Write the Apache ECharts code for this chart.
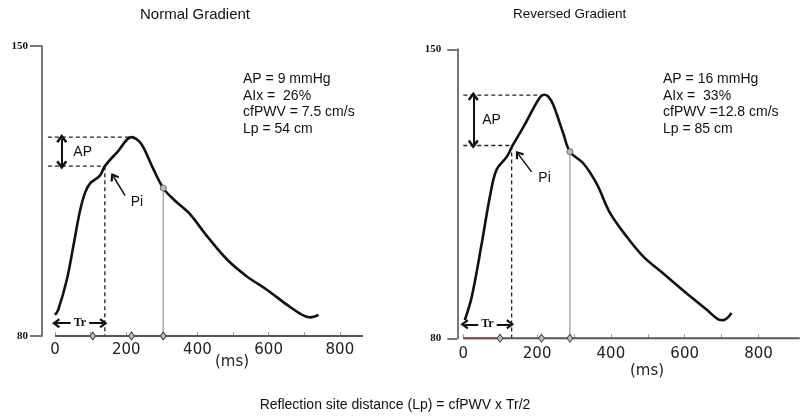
<!DOCTYPE html>
<html><head><meta charset="utf-8">
<script src="https://cdn.jsdelivr.net/npm/echarts@6/dist/echarts.min.js"></script>
<style>html,body{margin:0;padding:0;background:#fff}#c{width:800px;height:419px}</style>
</head><body><div id="c"></div>
<script>
// ---- data (ms, mmHg) ----
const xLabelTicks = [0, 200, 400, 600, 800];
const xMinorTicks = [0, 100, 200, 300, 400, 500, 600, 700, 800];
const yTicks = [80, 150];

const normalCurve = [[0,85.1],[9,86.3],[33,93.5],[53,102.4],[70,110.1],[84,114.5],[98,116.8],[126,118.7],[140,121],[175,124.4],[215,128],[241,126.5],[273,120.9],[304,115.7],[334,112.9],[376,109.7],[428,104],[484,98.4],[540,94.3],[596,91.1],[652,87.5],[694,85.1],[717,84.5],[740,85.1]];
const reversedCurve = [[4,84.4],[23,90.1],[50,103],[72,114.3],[90,120.8],[118,124],[133,126.6],[163,131.2],[190,135.7],[208,138.4],[219,139],[230,138.6],[244,136.5],[271,129.6],[289,125.2],[325,122.4],[361,117.5],[398,110.3],[443,104.6],[488,99.8],[542,95.7],[605,90.9],[660,86.9],[691,84.6],[705,84.4],[727,86.1]];

// key points: [ms, mmHg]
const normalPeak = [215, 128], normalPi = [140, 121], normalInflect = [304, 115.7];
const reversedPeak = [226, 138.9], reversedPi = [131, 126.7], reversedInflect = [289, 125.2];
const normalDiamonds = [106, 215, 304];
const reversedDiamonds = [99.5, 212, 289];
const normalStats = ['AP = 9 mmHg', 'AIx =  26%', 'cfPWV = 7.5 cm/s', 'Lp = 54 cm'];
const reversedStats = ['AP = 16 mmHg', 'AIx =  33%', 'cfPWV =12.8 cm/s', 'Lp = 85 cm'];
const titles = ['Normal Gradient', 'Reversed Gradient'];
const caption = 'Reflection site distance (Lp) = cfPWV x Tr/2';

// ---- chart ----
const chev = 'path://M0,7 L5,0 L10,7 L8.2,8.4 L5,3.8 L1.8,8.4 Z';
const sans = 'Liberation Sans, Arial, sans-serif';

function axesFor(i, cfg) {
  const x = {
    type: 'value', gridIndex: i, min: cfg.xmin, max: cfg.xmax,
    axisLine: {show: false, onZero: false},
    axisTick: {show: true, inside: true, length: 4, customValues: xMinorTicks, lineStyle: {color: '#999', width: 1}},
    axisLabel: {customValues: xLabelTicks, margin: cfg.xMargin, fontFamily: 'DejaVu Sans', fontSize: 15, color: '#222'},
    splitLine: {show: false}
  };
  const y = {
    type: 'value', gridIndex: i, min: 80, max: 150,
    axisLine: {show: true, onZero: false, lineStyle: {color: '#777', width: 2}},
    axisTick: {show: true, length: cfg.tickLen, customValues: yTicks, lineStyle: {color: '#777', width: 2}},
    axisLabel: {customValues: yTicks, margin: cfg.yMargin, fontFamily: 'Liberation Serif', fontWeight: 'bold', fontSize: 11, color: '#111'},
    splitLine: {show: false}
  };
  return [x, y];
}

function seriesFor(i, curve, peak, pi, inflect, diamonds, o) {
  const base = {xAxisIndex: i, yAxisIndex: i};
  const dash = {color: '#222', width: 1.3, type: [4, 3]};
  const lbl = (t, extra) => Object.assign({show: true, formatter: t, position: 'right', distance: 0, fontFamily: sans, fontSize: 14, color: '#111'}, extra || {});
  return [
    // x axis line from 0
    Object.assign({type: 'line', data: [[0, 80], [o.xEnd, 80]], symbol: 'none', clip: false, lineStyle: {color: '#555', width: 2}, z: 4}, base),
    Object.assign({type: 'line', data: curve, smooth: 0.35, symbol: 'none', lineStyle: {color: '#111', width: 2.6}, z: 5}, base),
    // dashed AP guide lines + vertical Tr guide
    Object.assign({type: 'line', data: [[o.dashStart, peak[1]], [peak[0], peak[1]]], symbol: 'none', clip: false, lineStyle: dash, z: 3}, base),
    Object.assign({type: 'line', data: [[o.dashStart, pi[1]], [pi[0], pi[1]]], symbol: 'none', clip: false, lineStyle: dash, z: 3}, base),
    Object.assign({type: 'line', data: [[pi[0], pi[1]], [pi[0], 80]], symbol: 'none', clip: false, lineStyle: dash, z: 3}, base),
    // gray vertical at inflection
    Object.assign({type: 'line', data: [[inflect[0], inflect[1]], [inflect[0], 80]], symbol: 'none', clip: false, lineStyle: {color: '#aaa', width: 1.5}, z: 2}, base),
    Object.assign({type: 'scatter', data: [inflect], symbol: 'circle', symbolSize: 6, clip: false, itemStyle: {color: '#bbb', borderColor: '#666', borderWidth: 1, opacity: 1}, z: 6}, base),
    // diamonds on x axis
    Object.assign({type: 'scatter', data: diamonds.map(d => [d, 80]), symbol: 'diamond', symbolSize: [6, 8], clip: false, itemStyle: {color: '#bbb', borderColor: '#444', borderWidth: 1, opacity: 1}, z: 7}, base),
    // arrows
    Object.assign({type: 'line', data: [], clip: false, markLine: {
      silent: true, symbol: 'none', label: {show: false}, animation: false,
      lineStyle: {color: '#111', width: 2, type: 'solid'},
      data: [
        [{coord: [o.apX, pi[1] + 0.3], symbol: chev, symbolSize: [11, 9]}, {coord: [o.apX, peak[1] - 0.3], symbol: chev, symbolSize: [11, 9]}],
        [{coord: [o.piTail[0], o.piTail[1]], symbol: 'none', lineStyle: {width: 1.5}}, {coord: [o.piHead[0], o.piHead[1]], symbol: chev, symbolSize: [10, 8], lineStyle: {width: 1.5}}],
        [{coord: [3, o.trY], symbol: chev, symbolSize: [10, 8]}, {coord: [pi[0] - 4, o.trY], symbol: chev, symbolSize: [10, 8]}]
      ]
    }}, base),
    // text labels
    Object.assign({type: 'scatter', symbol: 'circle', symbolSize: 1, clip: false, z: 8, itemStyle: {color: 'rgba(0,0,0,0)', opacity: 1}, data: [
      {value: [o.apLabelX, (peak[1] + pi[1]) / 2], label: lbl('AP')},
      {value: o.piText, label: lbl('Pi')},
      {value: [pi[0] / 2, o.trY], label: lbl('Tr', {position: 'inside', fontFamily: 'Liberation Serif', fontWeight: 'bold', fontSize: 12, backgroundColor: '#fff', padding: [0, 3]})}
    ]}, base)
  ];
}

const cfgL = {xmin: -36.5, xmax: 865, xMargin: 7, tickLen: 12, yMargin: 14};
const cfgR = {xmin: -16.3, xmax: 912, xMargin: 8, tickLen: 10, yMargin: 16};
const [xL, yL] = axesFor(0, cfgL);
const [xR, yR] = axesFor(1, cfgR);

const option = {
  backgroundColor: '#fff',
  animation: false,
  grid: [
    {left: 42, top: 46, width: 321, height: 290},
    {left: 457.3, top: 49.3, width: 342.5, height: 289}
  ],
  xAxis: [xL, xR],
  yAxis: [yL, yR],
  series: [
    ...seriesFor(0, normalCurve, normalPeak, normalPi, normalInflect, normalDiamonds,
      {xEnd: 865, dashStart: -20, apX: 19, apLabelX: 50, piHead: [164, 118.5], piTail: [197, 113.9], piText: [211, 112.2], trY: 83.1}),
    ...seriesFor(1, reversedCurve, reversedPeak, reversedPi, reversedInflect, reversedDiamonds,
      {xEnd: 912, dashStart: 0, apX: 27, apLabelX: 50, piHead: [149, 124.6], piTail: [185, 120.3], piText: [202, 118.8], trY: 83.4}),
    {type: 'line', xAxisIndex: 1, yAxisIndex: 1, data: [[0, 80], [100, 80]], symbol: 'none', clip: false, lineStyle: {color: '#8a5050', width: 2}, z: 4.5}
  ],
  graphic: [
    {type: 'text', left: 140, top: 7, style: {text: titles[0], font: '15px ' + sans, fill: '#111'}},
    {type: 'text', left: 513, top: 7, style: {text: titles[1], font: '13.5px ' + sans, fill: '#111'}},
    {type: 'text', left: 243, top: 71, style: {text: normalStats.join('\n'), font: '14px ' + sans, lineHeight: 16.6, fill: '#111'}},
    {type: 'text', left: 663, top: 71, style: {text: reversedStats.join('\n'), font: '14px ' + sans, lineHeight: 16.6, fill: '#111'}},
    {type: 'text', x: 232, y: 362, style: {text: '(ms)', font: '15px DejaVu Sans', fill: '#222', align: 'center', verticalAlign: 'middle'}},
    {type: 'text', x: 647, y: 371, style: {text: '(ms)', font: '15px DejaVu Sans', fill: '#222', align: 'center', verticalAlign: 'middle'}},
    {type: 'text', x: 395, y: 405, style: {text: caption, font: '14px ' + sans, fill: '#111', align: 'center', verticalAlign: 'middle'}}
  ]
};
echarts.init(document.getElementById('c'), null, {renderer: 'canvas'}).setOption(option);
</script>
</body></html>
